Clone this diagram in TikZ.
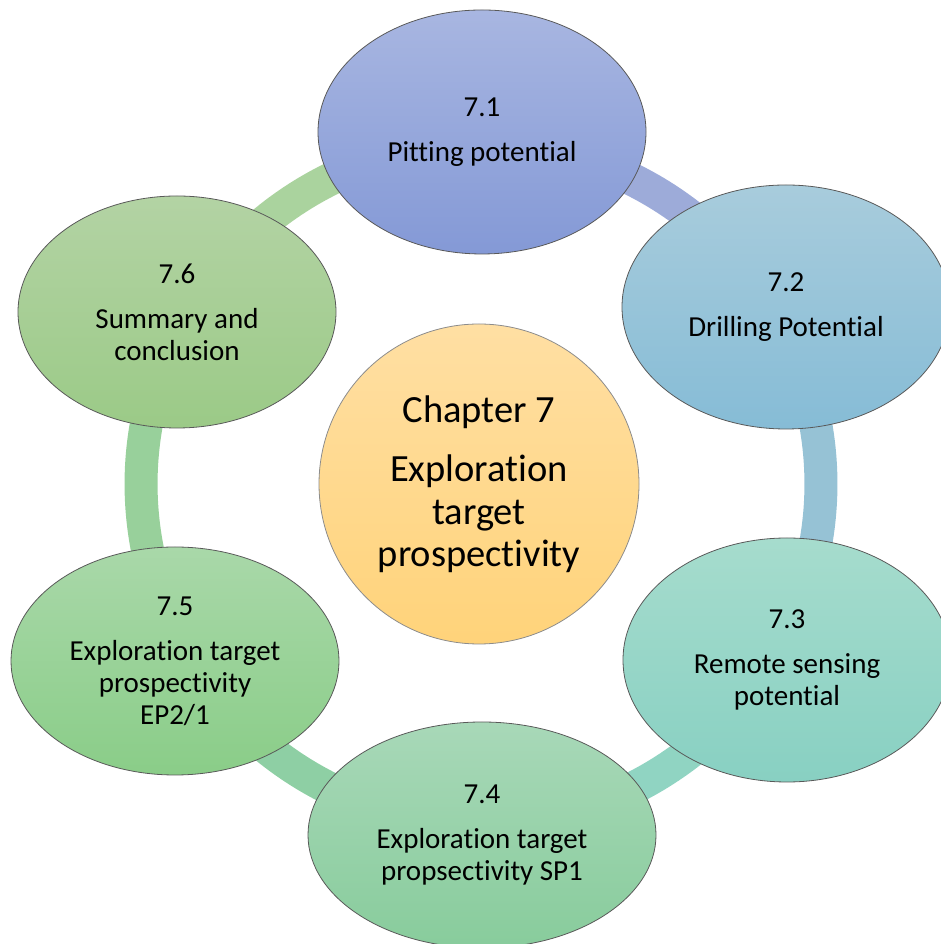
\documentclass[tikz,border=0pt]{standalone}
\usepackage{fontspec}
\setmainfont{Carlito}[RawFeature={-liga;-clig;-calt;-dlig}]
\usetikzlibrary{shapes.geometric}
%ring colours
\definecolor{ringA}{HTML}{9DABD9}
\definecolor{ringB}{HTML}{96C2D5}
\definecolor{ringC}{HTML}{90D4C2}
\definecolor{ringD}{HTML}{8ECFA4}
\definecolor{ringE}{HTML}{98D09B}
\definecolor{ringF}{HTML}{AAD39E}
%bubble colours
\definecolor{pitTop}{HTML}{A8B6E1}
\definecolor{pitBot}{HTML}{8499D6}
\definecolor{drillTop}{HTML}{A8CCDC}
\definecolor{drillBot}{HTML}{86BCD6}
\definecolor{remTop}{HTML}{A6DCCD}
\definecolor{remBot}{HTML}{88D0C2}
\definecolor{spTop}{HTML}{A8D8B8}
\definecolor{spBot}{HTML}{88CC9C}
\definecolor{epTop}{HTML}{A9D8A9}
\definecolor{epBot}{HTML}{8ACD88}
\definecolor{sumTop}{HTML}{B3D3A4}
\definecolor{sumBot}{HTML}{9BCA87}
\definecolor{hubTop}{HTML}{FFDFA3}
\definecolor{hubBot}{HTML}{FFD37A}
\tikzset{
    bubble/.style={ellipse, draw=black!65, line width=0.8pt, inner sep=0pt,
        align=center, font=\fontsize{29}{32}\selectfont},
    hub/.style={circle, draw=black!45, line width=0.8pt, inner sep=0pt,
        minimum size=320pt, align=center, font=\fontsize{38.5}{42.5}\selectfont,
        top color=hubTop, bottom color=hubBot},
    ringarc/.style={line width=33pt},
}
\begin{document}
\begin{tikzpicture}[x=1pt,y=1pt]
    \useasboundingbox (0,0) rectangle (940,944);
    %ring
    \coordinate (r1) at (481,800);
    \coordinate (r2) at (775.4,630);
    \coordinate (r3) at (775.4,290);
    \coordinate (r4) at (481,120);
    \coordinate (r5) at (186.6,290);
    \coordinate (r6) at (186.6,630);
    \draw[ringarc, ringA] (r1) arc[start angle=90, end angle=30, radius=340pt];
    \draw[ringarc, ringB] (r2) arc[start angle=30, end angle=-30, radius=340pt];
    \draw[ringarc, ringC] (r3) arc[start angle=-30, end angle=-90, radius=340pt];
    \draw[ringarc, ringD] (r4) arc[start angle=-90, end angle=-150, radius=340pt];
    \draw[ringarc, ringE] (r5) arc[start angle=210, end angle=150, radius=340pt];
    \draw[ringarc, ringF] (r6) arc[start angle=150, end angle=90, radius=340pt];
    %sections
    \node[bubble, minimum width=328pt, minimum height=244pt, top color=pitTop, bottom color=pitBot]
        (pit) at (482,812) {7.1\\[13pt]Pitting potential};
    \node[bubble, minimum width=328pt, minimum height=244pt, top color=drillTop, bottom color=drillBot]
        (drill) at (786,637) {7.2\\[13pt]Drilling Potential};
    \node[bubble, minimum width=328pt, minimum height=244pt, top color=remTop, bottom color=remBot]
        (remote) at (787,284) {7.3\\[13pt]Remote sensing\\potential};
    \node[bubble, minimum width=348pt, minimum height=226pt, top color=spTop, bottom color=spBot]
        (sp) at (482,109) {7.4\\[13pt]Exploration target\\propsectivity SP1};
    \node[bubble, minimum width=328pt, minimum height=228pt, top color=epTop, bottom color=epBot]
        (ep) at (175,283) {7.5\\[13pt]Exploration target\\prospectivity\\EP2/1};
    \node[bubble, minimum width=318pt, minimum height=232pt, top color=sumTop, bottom color=sumBot]
        (summary) at (177,632) {7.6\\[13pt]Summary and\\conclusion};
    %centre
    \node[hub] (chapter) at (479,460) {Chapter 7\\[17pt]Exploration\\target\\prospectivity};
\end{tikzpicture}
\end{document}
